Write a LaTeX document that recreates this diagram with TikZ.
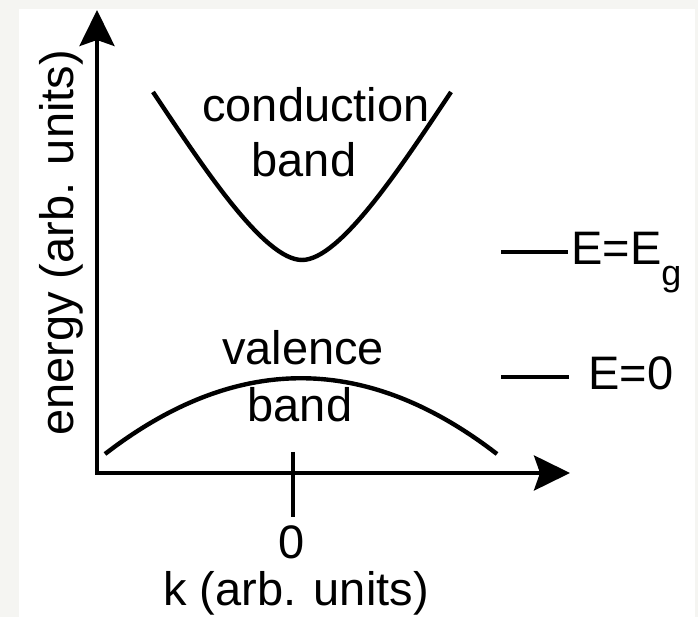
\documentclass[tikz,border=0pt]{standalone}
\usepackage{fontspec}
\setmainfont{Liberation Sans}
\usetikzlibrary{arrows.meta}
\definecolor{paper}{RGB}{245,245,242}
\tikzset{
  curve/.style={line width=4.4pt},
  level/.style={line width=3.6pt},
  lbl/.style={font=\fontsize{47}{56}\selectfont, inner sep=0pt},
}

\begin{document}
\begin{tikzpicture}[x=1pt,y=1pt,>={Stealth[length=36pt,width=35pt,inset=6pt]}]
  \useasboundingbox (0,0) rectangle (698,617);
  \fill[paper] (0,0) rectangle (698,617);
  \fill[white] (19,0) rectangle (695,608);
  % axes
  \coordinate (O) at (97,144);
  \coordinate (Etop) at (97,607);
  \coordinate (kend) at (570,144);
  \draw[<->,line width=4pt] (Etop) -- (O) -- (kend);
  \coordinate (tickA) at (293,165);
  \coordinate (tickB) at (293,100);
  \draw[line width=4pt] (tickA) -- (tickB);
  \node[lbl] (zero) at (292,75) {0};
  \node[lbl,anchor=base] (klabel) at (296,11) {k (arb. units)};
  \node[lbl,rotate=90,anchor=base] (Elabel) at (73,374) {energy (arb. units)};
  % bands
  \draw[curve] (153,525) .. controls (203,450) and (264,357) .. (302,357)
    .. controls (340,357) and (401,450) .. (451,525);
  \draw[curve] (105,163) .. controls (236,264) and (366,264) .. (497,163);
  \node[lbl,anchor=base] (cond) at (316,495) {conduction};
  \node[lbl,anchor=base] (condband) at (304,440) {band};
  \node[lbl,anchor=base] (val) at (303,252) {valence};
  \node[lbl,anchor=base] (valband) at (300,195) {band};
  % levels
  \coordinate (gapL) at (501,365);
  \coordinate (gapR) at (568,365);
  \draw[level] (gapL) -- (gapR);
  \node[lbl,anchor=base west] (Eg) at (571,352)
    {E=E\raisebox{-21pt}{\fontsize{36}{36}\selectfont g}};
  \coordinate (zeroL) at (501,240);
  \coordinate (zeroR) at (569,240);
  \draw[level] (zeroL) -- (zeroR);
  \node[lbl,anchor=base west] (E0) at (588,227) {E=0};
\end{tikzpicture}
\end{document}
